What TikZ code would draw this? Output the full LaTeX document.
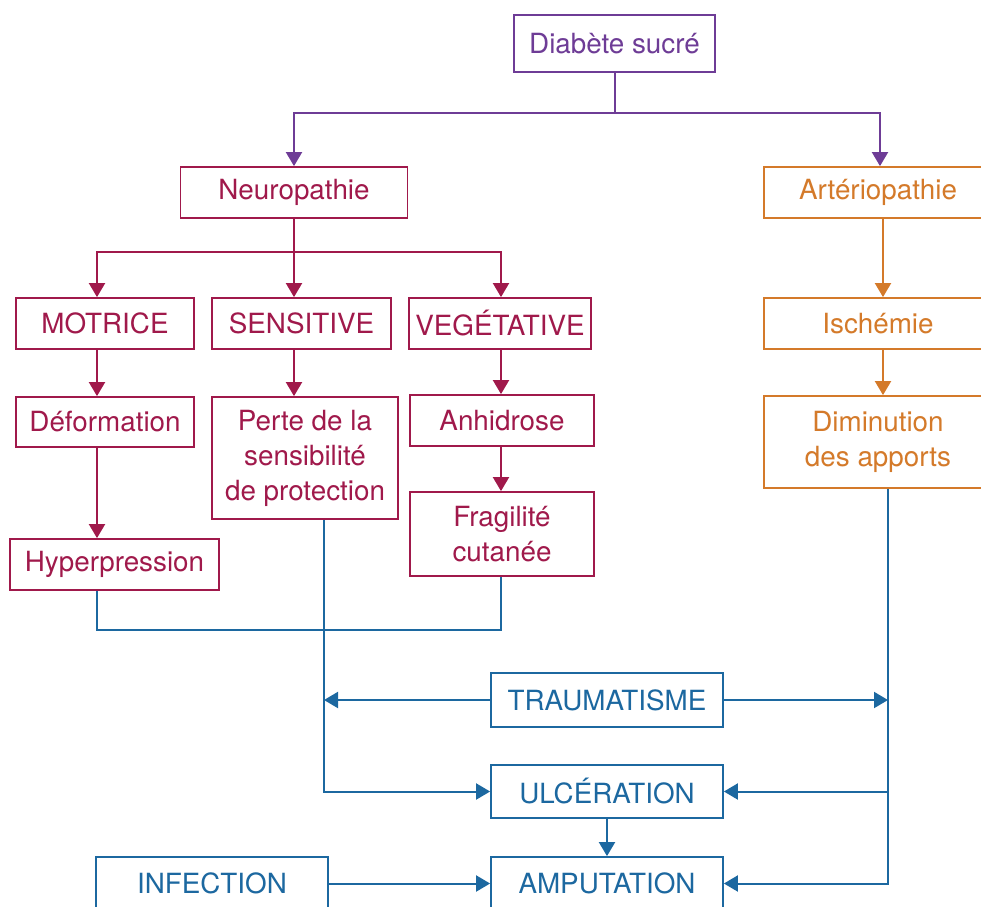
\documentclass[tikz,border=0pt]{standalone}
\usepackage{fontspec}
\setmainfont{TeX Gyre Heros}
\usetikzlibrary{arrows.meta}
\definecolor{diabcolor}{RGB}{110,60,150}
\definecolor{neurocolor}{RGB}{160,25,75}
\definecolor{artercolor}{RGB}{212,122,42}
\definecolor{compcolor}{RGB}{28,104,160}
\tikzstyle{basebox} = [
    draw,
    rectangle,
    line width=0.9pt,
    fill=white,
    align=center,
    inner sep=0pt,
    font=\fontsize{13.9}{17.5}\selectfont
    ]
\tikzstyle{diabbox} = [basebox, draw=diabcolor, text=diabcolor]
\tikzstyle{neurobox} = [basebox, draw=neurocolor, text=neurocolor]
\tikzstyle{arterbox} = [basebox, draw=artercolor, text=artercolor]
\tikzstyle{compbox} = [basebox, draw=compcolor, text=compcolor]
\tikzstyle{link} = [line width=1pt]
\tikzstyle{flow} = [link, -{Triangle[width=8pt,length=7pt]}]
\tikzstyle{flows} = [link, {Triangle[width=8pt,length=7pt]}-{Triangle[width=8pt,length=7pt]}]

\begin{document}
\begin{tikzpicture}[x=0.5pt, y=-0.5pt]
\clip (0,0) rectangle (981,906);

% boxes
\node[diabbox, minimum width=100.5pt, minimum height=28.5pt] (diabete) at (614.5,43.5) {Diabète sucré};
\node[neurobox, minimum width=113.5pt, minimum height=25.5pt] (neuro) at (294,192.5) {Neuropathie};
\node[arterbox, minimum width=114pt, minimum height=25.5pt] (arterio) at (878,192.5) {Artériopathie};
\node[neurobox, minimum width=89pt, minimum height=25.5pt] (motrice) at (105,323.5) {MOTRICE};
\node[neurobox, minimum width=89.5pt, minimum height=25.5pt] (sensitive) at (301.5,323.5) {SENSITIVE};
\node[neurobox, minimum width=91pt, minimum height=25.5pt] (vegetative) at (500,323.5) {VEGÉTATIVE};
\node[arterbox, minimum width=114pt, minimum height=25.5pt] (ischemie) at (878,323.5) {Ischémie};
\node[neurobox, minimum width=89pt, minimum height=25pt] (deformation) at (105,422) {Déformation};
\node[neurobox, minimum width=93pt, minimum height=61pt] (perte) at (305,458) {Perte de la\\sensibilité\\de protection};
\node[neurobox, minimum width=92pt, minimum height=25.5pt] (anhidrose) at (502,420.5) {Anhidrose};
\node[arterbox, minimum width=114pt, minimum height=46pt] (diminution) at (878,442) {Diminution\\des apports};
\node[neurobox, minimum width=104.5pt, minimum height=25.5pt] (hyper) at (114.5,564.5) {Hyperpression};
\node[neurobox, minimum width=92pt, minimum height=42pt] (fragilite) at (502,534) {Fragilité\\cutanée};
\node[compbox, minimum width=116pt, minimum height=27pt] (trauma) at (607,700) {TRAUMATISME};
\node[compbox, minimum width=116pt, minimum height=26.5pt] (ulcere) at (607,791.5) {ULCÉRATION};
\node[compbox, minimum width=116pt, minimum height=26.5pt] (amput) at (607,883.5) {AMPUTATION};
\node[compbox, minimum width=116pt, minimum height=26.5pt] (infect) at (212,883.5) {INFECTION};

% columns and joints
\coordinate (split) at (614.5,113);
\coordinate (bl) at (294,113);
\coordinate (br) at (880,113);
\coordinate (cA) at (97,252);
\coordinate (cB) at (294,252);
\coordinate (cC) at (501,252);
\coordinate (cD) at (883,0);
\coordinate (cE) at (324,0);
\coordinate (cF) at (888,0);
\coordinate (joint) at (300,630);

% diabete
\draw[link, diabcolor] (diabete.south) -- (split);
\draw[flows, diabcolor] (neuro.north -| bl) |- (split) -| (arterio.north -| br);

% neuropathie
\draw[flow, neurocolor] (neuro.south) -- (sensitive.north -| cB);
\draw[flows, neurocolor] (motrice.north -| cA) |- (cB) -| (vegetative.north -| cC);
\draw[flow, neurocolor] (motrice.south -| cA) -- (deformation.north -| cA);
\draw[flow, neurocolor] (deformation.south -| cA) -- (hyper.north -| cA);
\draw[flow, neurocolor] (sensitive.south -| cB) -- (perte.north -| cB);
\draw[flow, neurocolor] (vegetative.south -| cC) -- (anhidrose.north -| cC);
\draw[flow, neurocolor] (anhidrose.south -| cC) -- (fragilite.north -| cC);

% arteriopathie
\draw[flow, artercolor] (arterio.south -| cD) -- (ischemie.north -| cD);
\draw[flow, artercolor] (ischemie.south -| cD) -- (diminution.north -| cD);

% complications
\draw[link, compcolor] (hyper.south -| cA) |- (joint) -| (fragilite.south -| cC);
\draw[flow, compcolor] (perte.south -| cE) |- (ulcere.west);
\draw[flow, compcolor] (trauma.west) -- (trauma.west -| cE);
\draw[flow, compcolor] (trauma.east) -- (trauma.east -| cF);
\draw[flow, compcolor] (diminution.south -| cF) |- (amput.east);
\draw[flow, compcolor] (ulcere.east -| cF) -- (ulcere.east);
\draw[flow, compcolor] (ulcere.south) -- (amput.north);
\draw[flow, compcolor] (infect.east) -- (amput.west);
\end{tikzpicture}
\end{document}
